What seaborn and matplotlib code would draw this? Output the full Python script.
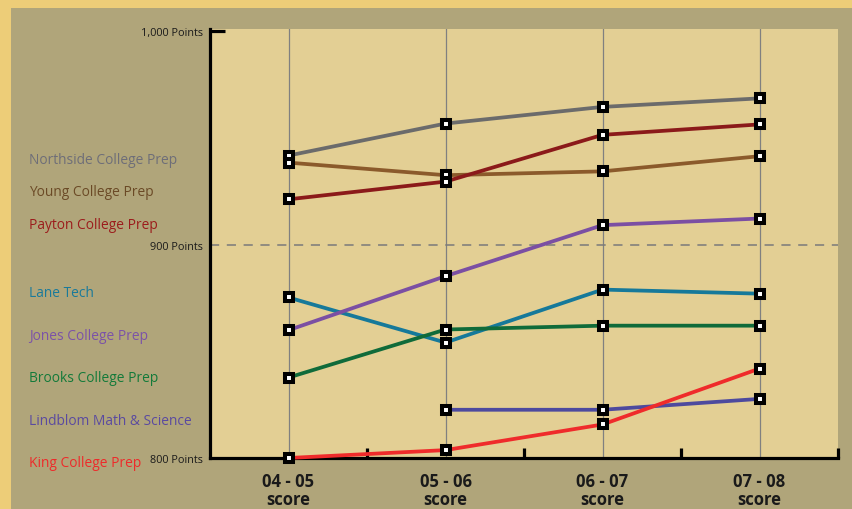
import numpy as np
import pandas as pd
import matplotlib.pyplot as plt
import seaborn as sns
from matplotlib.patches import Rectangle

# Chart values
seasons = ["04 - 05", "05 - 06", "06 - 07", "07 - 08"]
schools = ["Northside College Prep", "Young College Prep", "Payton College Prep", "Lane Tech",
           "Jones College Prep", "Brooks College Prep", "Lindblom Math & Science", "King College Prep"]
northside = [941.7, 956.7, 964.5, 968.5]
young = [938.4, 932.5, 934.3, 941.4]
payton = [921.2, 929.5, 951.4, 956.3]
lane = [875.2, 854.1, 878.9, 877.0]
jones = [859.9, 885.2, 909.1, 912.2]
brooks = [837.7, 860.2, 862.0, 862.0]
lindblom = [np.nan, 822.6, 822.6, 827.7]
king = [800.0, 803.7, 815.7, 841.9]
y_ticks = [800, 900, 1000]
y_tick_labels = ["800 Points", "900 Points", "1,000 Points"]

line_colors = ["#6b6b6b", "#8b5a2b", "#8b1a1a", "#16799a", "#7b4fa3", "#106b3a", "#4d4a9e", "#ef2b2b"]
label_colors = ["#6e6e78", "#6b4a26", "#9c1c1c", "#1a7a9a", "#7b52a8", "#137a3a", "#5a4aa0", "#ee2a2a"]
label_y_px = [161, 193, 226, 294, 337, 379, 422, 464]

# Long-form table for seaborn
series = [northside, young, payton, lane, jones, brooks, lindblom, king]
rows = []
for school, vals in zip(schools, series):
    for i, v in enumerate(vals):
        rows.append({"school": school, "pos": i, "score": v})
df = pd.DataFrame(rows)

W, H = 852, 510
fig = plt.figure(figsize=(W / 100, H / 100), dpi=100)
fig.patch.set_facecolor("#edcd78")
fig.add_artist(Rectangle((11 / W, 0), 1, 1 - 9 / H, transform=fig.transFigure,
                         facecolor="#b0a57a", edgecolor="none", zorder=0))

ax = fig.add_axes([210 / W, 1 - 459 / H, 628 / W, 429 / H])
ax.set_facecolor("#e3cf94")

# vertical guides and 900 dashed line
for i in range(len(seasons)):
    ax.axvline(i, color="#808080", linewidth=0.9, zorder=1)
ax.axhline(900, color="#7a7a7a", linewidth=1.1, linestyle=(0, (6, 5)), zorder=1)

sns.lineplot(data=df, x="pos", y="score", hue="school", hue_order=schools,
             palette=line_colors, linewidth=2.7, marker="s", markersize=5.6,
             markerfacecolor="white", markeredgecolor="black", markeredgewidth=2.9,
             errorbar=None, legend=False, ax=ax, clip_on=False, zorder=3)

ax.set_xlim(-0.5, 3.5)
ax.set_ylim(800, 1001)

for side in ["top", "right"]:
    ax.spines[side].set_visible(False)
for side in ["left", "bottom"]:
    ax.spines[side].set_linewidth(2.3)
    ax.spines[side].set_color("black")

# short tick at the 1,000 mark
ax.plot([-0.5, -0.405], [1000, 1000], color="black", linewidth=2.3,
        solid_capstyle="butt", clip_on=False, zorder=4)

ax.set_xticks(range(len(seasons)))
ax.set_xticklabels([f"{s}\nscore" for s in seasons], fontsize=12, fontweight="bold",
                   family="Open Sans", color="#1a1a1a", linespacing=1.0)
ax.set_xticks([0.5, 1.5, 2.5, 3.5], minor=True)
ax.tick_params(axis="x", which="major", length=0, pad=10)
ax.tick_params(axis="x", which="minor", direction="in", length=7, width=2.3, color="black")

ax.set_yticks(y_ticks)
ax.set_yticklabels(y_tick_labels, fontsize=7.8, family="Open Sans", color="#1a1a1a")
ax.tick_params(axis="y", which="major", length=0, pad=5)
ax.set_xlabel("")
ax.set_ylabel("")

# school names on the left
for name, c, ypx in zip(schools, label_colors, label_y_px):
    fig.text(29 / W, 1 - ypx / H, name, color=c, fontsize=9.9, family="Open Sans",
             ha="left", va="center")

fig.savefig("out.png", dpi=100, facecolor=fig.get_facecolor())
